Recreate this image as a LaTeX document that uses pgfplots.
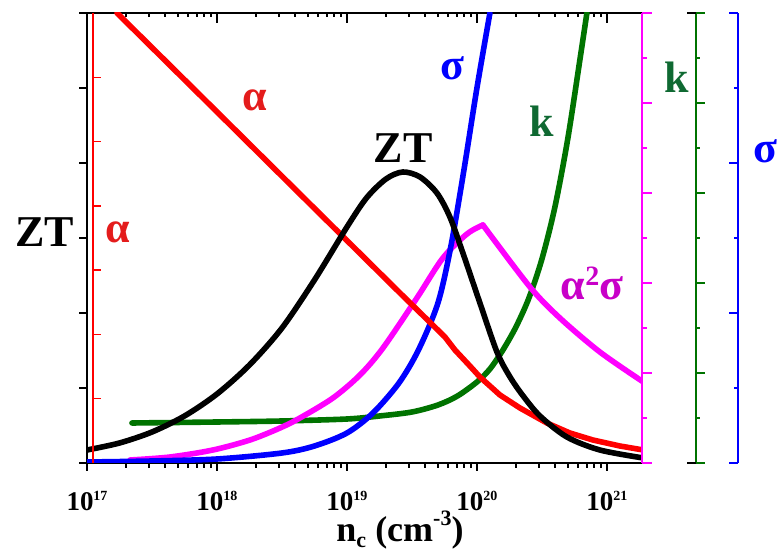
\documentclass[border=0pt]{standalone}
\usepackage{fontspec}
\setmainfont{Liberation Serif}
\usepackage{pgfplots}
\pgfplotsset{compat=1.18}

\definecolor{cRed}{RGB}{255,0,0}
\definecolor{cBlue}{RGB}{0,0,255}
\definecolor{cGreen}{RGB}{0,115,0}
\definecolor{cMag}{RGB}{255,0,255}
\definecolor{lRed}{RGB}{228,28,28}
\definecolor{lGreen}{RGB}{15,105,50}
\definecolor{lMag}{RGB}{200,0,200}

% tick label 10^n with a small raised exponent
\newcommand{\dec}[1]{10\raisebox{5pt}{\fontsize{7}{8}\selectfont #1}}

\pgfplotsset{
  logminor/.style={minor xtick={
    17.301,17.477,17.602,17.699,17.778,17.845,17.903,17.954,
    18.301,18.477,18.602,18.699,18.778,18.845,18.903,18.954,
    19.301,19.477,19.602,19.699,19.778,19.845,19.903,19.954,
    20.301,20.477,20.602,20.699,20.778,20.845,20.903,20.954}},
  box/.style={scale only axis, width=277.5pt, height=225pt,
    anchor=south west, xmin=17, xmax=21.27},
  aux/.style={scale only axis, width=20pt, height=225pt, anchor=south west,
    hide x axis, xmin=0, xmax=1, ymin=0, axis y line*=left,
    yticklabels={}, axis line style={-}},
  curve/.style={line width=2.8pt, line cap=round, line join=round},
}

\begin{document}
\begin{tikzpicture}
% top axis line with inward ticks
\begin{axis}[box, at={(0,0)}, ymin=0, ymax=1,
  axis x line*=top, hide y axis, axis line style={-, line width=1pt},
  xtick={17,...,21}, xticklabels={}, logminor, xtick align=inside,
  major tick length=5pt, minor tick length=2pt,
  tick style={black, line width=1pt}]
\end{axis}

% main axis: curves, bottom and ZT axes
\begin{axis}[box, at={(0,0)}, ymin=0, ymax=450,
  axis x line*=bottom, axis y line*=left,
  axis line style={-, line width=1pt},
  xtick={17,...,21},
  xticklabels={\dec{17},\dec{18},\dec{19},\dec{20},\dec{21}},
  logminor,
  xticklabel style={font=\fontsize{13.5}{15}\selectfont\bfseries,
    anchor=center, yshift=-15pt},
  ytick={0,75,...,450}, yticklabels={},
  tick align=outside,
  major tick length=4pt, minor tick length=2.5pt,
  tick style={black, line width=1pt},
  clip mode=individual]

% k
\addplot[curve, cGreen, smooth] coordinates {
  (17.346,40) (18.0,41) (18.5,42) (19.0,44) (19.25,47) (19.5,51)
  (19.7,58) (19.85,67) (20.0,81) (20.1,94) (20.2,113) (20.3,136)
  (20.4,165) (20.5,204) (20.6,256) (20.7,325) (20.8,410) (20.846,450)};

% alpha^2 sigma, rising branch and falling branch
\addplot[curve, cMag, smooth] coordinates {
  (17.331,3) (17.638,6) (17.969,13) (18.254,23) (18.485,35)
  (18.638,45) (18.892,65) (19.100,88) (19.277,115) (19.538,165)
  (19.738,205) (19.923,229) (20.046,238)};
\addplot[curve, cMag, smooth] coordinates {
  (20.046,238) (20.408,176) (20.638,145) (20.946,111) (21.280,81)};

% sigma
\addplot[curve, cBlue, smooth] coordinates {
  (17.0,1) (17.5,2) (18.0,4) (18.5,10) (18.75,17) (19.0,30)
  (19.2,50) (19.4,80) (19.55,113) (19.7,160) (19.8,217)
  (19.9,293) (20.0,375) (20.1,450)};

% alpha
\addplot[curve, cRed] coordinates {
  (17.231,450) (17.869,368) (18.638,269) (19.408,170) (19.754,126)
  (19.831,113) (19.946,97) (20.023,86) (20.177,68) (20.331,55)
  (20.538,40) (20.715,30) (20.892,23) (21.100,17) (21.280,13)};

% ZT
\addplot[curve, black, smooth] coordinates {
  (17.0,13) (17.25,20) (17.5,31) (17.75,47) (18.0,69) (18.25,98)
  (18.5,135) (18.75,183) (19.0,236) (19.15,265) (19.3,284)
  (19.43,291) (19.562,286) (19.692,270) (19.792,246) (19.892,210)
  (20.023,160) (20.154,111) (20.25,87) (20.35,68) (20.485,47)
  (20.692,26) (20.946,13) (21.28,5)};
\end{axis}

% alpha axis
\begin{axis}[aux, at={(3pt,0)}, ymax=7, ytick={1,...,6},
  y axis line style={cRed, line width=0.75pt}, ytick align=inside,
  major tick length=4pt, tick style={cRed, line width=0.75pt}]
\end{axis}

% alpha^2 sigma axis
\begin{axis}[aux, at={(277.5pt,0)}, ymax=10,
  ytick={0,2,...,10}, minor ytick={1,3,...,9},
  y axis line style={cMag, line width=0.75pt}, ytick align=inside,
  major tick length=5pt, minor tick length=2.5pt,
  tick style={cMag, line width=0.75pt}]
\end{axis}

% k axis
\begin{axis}[aux, at={(304.5pt,0)}, ymax=10,
  ytick={0,2,...,10}, minor ytick={1,3,...,9},
  y axis line style={cGreen, line width=0.75pt}, ytick align=inside,
  major tick length=4.5pt, minor tick length=2pt,
  tick style={cGreen, line width=0.75pt}]
\end{axis}
\draw[black, line width=1pt] (304.5pt,0) -- ++(-4.5pt,0)
  (304.5pt,225pt) -- ++(-4.5pt,0);

% sigma axis
\begin{axis}[aux, at={(325.5pt,0)}, ymax=6,
  ytick={0,2,4,6}, minor ytick={1,3,5},
  y axis line style={cBlue, line width=0.75pt}, ytick align=outside,
  major tick length=4.5pt, minor tick length=2pt,
  tick style={cBlue, line width=0.75pt}]
\end{axis}

% labels
\begin{scope}[every node/.style={inner sep=0pt, font=\fontsize{22}{26}\selectfont\bfseries}]
\node[black] at (-21pt,115.5pt) {ZT};
\node[lRed] at (15.5pt,115.5pt) {α};
\node[lRed] at (84pt,181.5pt) {α};
\node[black] at (158pt,157.5pt) {ZT};
\node[cBlue] at (182.5pt,197.5pt) {σ};
\node[lGreen] at (227.5pt,171pt) {k};
\node[lMag] at (252.5pt,90pt) {α\raisebox{7pt}{\fontsize{14}{16}\selectfont 2}σ};
\node[lGreen] at (295pt,193pt) {k};
\node[cBlue] at (339pt,156pt) {σ};
\node[black, font=\fontsize{18}{21}\selectfont\bfseries] at (156.5pt,-33.5pt)
  {n\raisebox{-3pt}{\fontsize{11}{12}\selectfont c} (cm\raisebox{8pt}{\fontsize{11}{12}\selectfont -3})};
\end{scope}

\pgfresetboundingbox
\path[use as bounding box] (-43.5pt,-44pt) rectangle (345pt,231.5pt);
\end{tikzpicture}
\end{document}
